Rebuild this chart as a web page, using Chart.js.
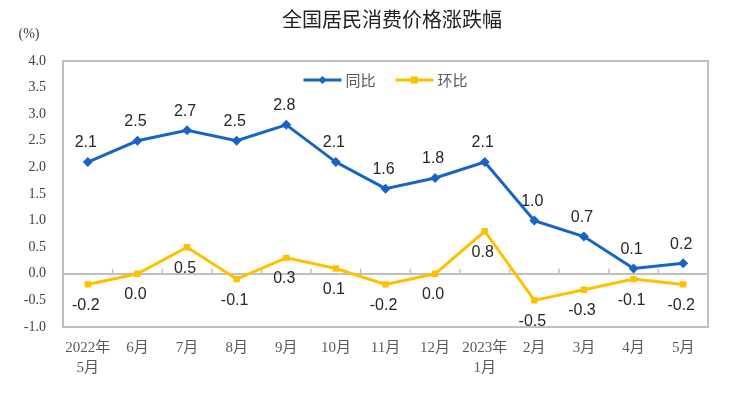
<!DOCTYPE html>
<html>
<head>
<meta charset="utf-8">
<script src="https://cdn.jsdelivr.net/npm/chart.js@4.4.1/dist/chart.umd.min.js"></script>
<style>
  html, body { margin: 0; padding: 0; background: #fff; }
  #wrap { width: 747px; height: 397px; }
</style>
</head>
<body>
<div id="wrap"><canvas id="chart1" width="747" height="397"></canvas></div>
<script>
// data
const months = [['2022年', '5月'], '6月', '7月', '8月', '9月', '10月', '11月', '12月', ['2023年', '1月'], '2月', '3月', '4月', '5月']
const tongbi = [2.1, 2.5, 2.7, 2.5, 2.8, 2.1, 1.6, 1.8, 2.1, 1.0, 0.7, 0.1, 0.2]
const huanbi = [-0.2, 0.0, 0.5, -0.1, 0.3, 0.1, -0.2, 0.0, 0.8, -0.5, -0.3, -0.1, -0.2]
const seriesNames = ['同比', '环比']
const yMin = -1, yMax = 4, yStep = 0.5

const blue = '#1763c6'
const gold = '#ffc000'
const boxGray = '#bfbfbf'

// box, zero line ticks, title, unit, legend and value labels
const decor = {
    id: 'decor',
    beforeDatasetsDraw(chart) {
        const c = chart.ctx, a = chart.chartArea
        const x = chart.scales.x, y = chart.scales.y
        c.save()
        c.strokeStyle = boxGray
        c.lineWidth = 2
        c.strokeRect(a.left, a.top, a.right - a.left, a.bottom - a.top)
        // small marks between categories on the zero line
        const y0 = y.getPixelForValue(0)
        c.lineWidth = 1.5
        for (let i = 0; i < months.length - 1; i++) {
            const xm = (x.getPixelForValue(i) + x.getPixelForValue(i + 1)) / 2
            c.beginPath()
            c.moveTo(xm, y0)
            c.lineTo(xm, y0 - 5)
            c.stroke()
        }
        c.restore()
    },
    afterDatasetsDraw(chart) {
        const c = chart.ctx, a = chart.chartArea
        c.save()
        // title + unit
        c.fillStyle = '#222'
        c.textAlign = 'center'
        c.textBaseline = 'middle'
        c.font = '20px "Noto Sans CJK SC"'
        c.fillText('全国居民消费价格涨跌幅', 392, 19)
        c.font = '14px "Liberation Serif", "Noto Sans CJK SC"'
        c.fillStyle = '#404040'
        c.fillText('(%)', 29, 34)

        // legend inside the plot area
        c.font = '15px "Noto Sans CJK SC"'
        const colors = [blue, gold]
        const lineLen = 38, gap = 4, between = 20
        let total = 0
        seriesNames.forEach((n, i) => {
            total += lineLen + gap + c.measureText(n).width + (i ? 0 : between)
        })
        let lx = (a.left + a.right) / 2 - total / 2
        const ly = a.top + 19
        seriesNames.forEach((n, i) => {
            c.strokeStyle = colors[i]
            c.fillStyle = colors[i]
            c.lineWidth = 3
            c.beginPath()
            c.moveTo(lx, ly)
            c.lineTo(lx + lineLen, ly)
            c.stroke()
            const mx = lx + lineLen / 2
            c.beginPath()
            if (i == 0) {
                c.moveTo(mx, ly - 4); c.lineTo(mx + 4, ly); c.lineTo(mx, ly + 4); c.lineTo(mx - 4, ly)
            } else {
                c.rect(mx - 3.5, ly - 3.5, 7, 7)
            }
            c.fill()
            c.fillStyle = '#595959'
            c.textAlign = 'left'
            c.fillText(n, lx + lineLen + gap, ly)
            lx += lineLen + gap + c.measureText(n).width + between
        })

        // value labels: 同比 above, 环比 below
        c.font = '16px "Liberation Sans", Arial'
        c.fillStyle = '#262626'
        c.textAlign = 'center'
        chart.data.datasets.forEach((ds, di) => {
            const meta = chart.getDatasetMeta(di)
            meta.data.forEach((pt, i) => {
                const off = di == 0 ? -19 : 21
                c.fillText(ds.data[i].toFixed(1), pt.x - 2, pt.y + off)
            })
        })
        c.restore()
    }
}

const ctx = document.getElementById('chart1').getContext('2d')
const chart1 = new Chart(ctx, {
    type: 'line',
    data: {
        labels: months,
        datasets: [{
            label: seriesNames[0],
            data: tongbi,
            borderColor: blue,
            backgroundColor: blue,
            borderWidth: 3,
            pointStyle: 'rectRot',
            pointRadius: 5,
            pointBorderWidth: 0,
            tension: 0
        }, {
            label: seriesNames[1],
            data: huanbi,
            borderColor: gold,
            backgroundColor: gold,
            borderWidth: 3,
            pointStyle: 'rect',
            pointRadius: 4.5,
            pointBorderWidth: 0,
            tension: 0
        }]
    },
    options: {
        responsive: false,
        animation: false,
        layout: { padding: { top: 61, right: 39, left: 0, bottom: 0 } },
        plugins: {
            legend: { display: false },
            title: { display: false },
            tooltip: { enabled: false }
        },
        scales: {
            x: {
                offset: true,
                grid: { display: false, drawTicks: false },
                border: { display: false },
                ticks: {
                    padding: 11,
                    maxRotation: 0,
                    autoSkip: false,
                    color: '#595959',
                    font: { family: '"Liberation Serif", "Noto Sans CJK SC"', size: 15, lineHeight: 1.33 }
                },
                afterFit(scale) { scale.height = 70 }
            },
            y: {
                min: yMin,
                max: yMax,
                grid: {
                    drawTicks: false,
                    color: (c) => c.tick && c.tick.value === 0 ? boxGray : 'transparent',
                    lineWidth: 2
                },
                border: { display: false },
                ticks: {
                    stepSize: yStep,
                    padding: 17,
                    color: '#404040',
                    font: { family: '"Liberation Serif"', size: 14 },
                    callback: (v) => v.toFixed(1)
                },
                afterFit(scale) { scale.width = 63 }
            }
        }
    },
    plugins: [decor]
})
</script>
</body>
</html>
